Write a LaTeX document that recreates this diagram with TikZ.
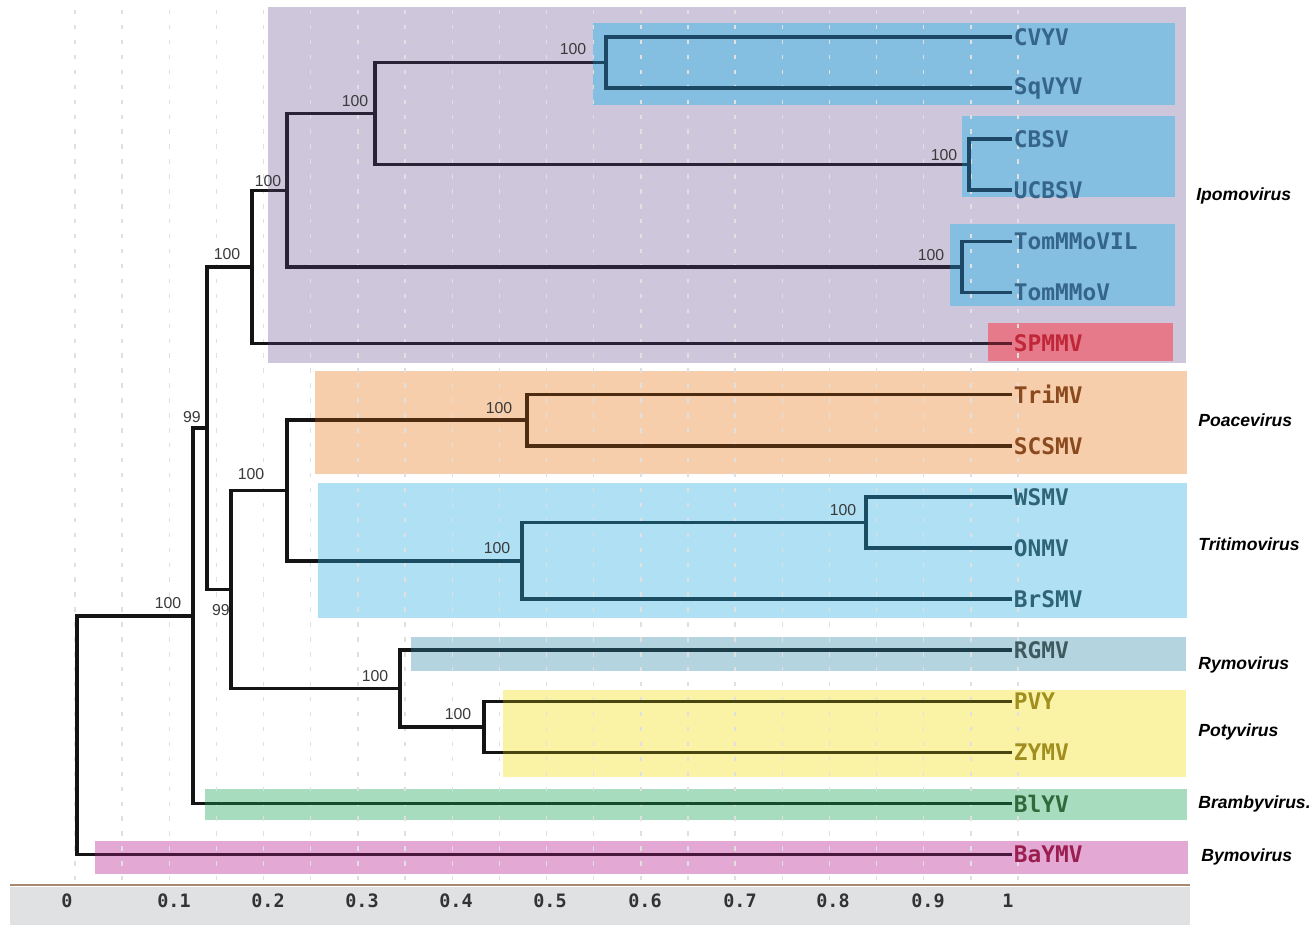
\documentclass[tikz,border=0pt]{standalone}
\usepackage{fontspec}
\setmainfont{Liberation Sans}
\setmonofont{DejaVu Sans Mono}
\usetikzlibrary{positioning}
\definecolor{ipo}{HTML}{CEC6DA}
\definecolor{ipoline}{HTML}{2A2336}
\definecolor{ipoblue}{HTML}{84BEE0}
\definecolor{ipoblueline}{HTML}{1C4866}
\definecolor{spred}{HTML}{E67A8A}
\definecolor{spredline}{HTML}{5E1E2C}
\definecolor{poa}{HTML}{F7CEAB}
\definecolor{poaline}{HTML}{4E2C12}
\definecolor{triti}{HTML}{B0E0F4}
\definecolor{tritiline}{HTML}{1A4C62}
\definecolor{rymo}{HTML}{B4D5DF}
\definecolor{rymoline}{HTML}{1C3E4A}
\definecolor{poty}{HTML}{FAF3A6}
\definecolor{potyline}{HTML}{4A4612}
\definecolor{bramby}{HTML}{A8DCBF}
\definecolor{brambyline}{HTML}{184A2C}
\definecolor{bymo}{HTML}{E3A8D4}
\definecolor{bymoline}{HTML}{4A183C}
\definecolor{treeblack}{HTML}{141414}
\definecolor{bootgray}{HTML}{3A3A3A}
\definecolor{gridgray}{HTML}{E0E0E0}
\definecolor{axisgray}{HTML}{DFE1E3}
\definecolor{axisline}{HTML}{A88872}
\definecolor{txtipo}{HTML}{35658A}
\definecolor{txtsp}{HTML}{C0283A}
\definecolor{txtpoa}{HTML}{8A4A1E}
\definecolor{txttri}{HTML}{2E6478}
\definecolor{txtry}{HTML}{3E5A60}
\definecolor{txtpot}{HTML}{A08E1E}
\definecolor{txtbra}{HTML}{2E6A3A}
\definecolor{txtby}{HTML}{9A1E50}
\tikzset{branch/.style={line width=2pt,line cap=rect,draw=treeblack},
leaf/.style={anchor=west,inner xsep=2pt,inner ysep=0pt,font=\ttfamily\bfseries\fontsize{13}{15}\selectfont},
boot/.style={inner sep=0pt,text=bootgray,font=\fontsize{9}{10}\selectfont},
genus/.style={anchor=west,inner sep=0pt,font=\bfseries\itshape\fontsize{10}{12}\selectfont},
tick/.style={inner sep=0pt,text=black!80,font=\ttfamily\bfseries\fontsize{10.5}{12}\selectfont},
gridline/.style={draw=gridgray,line width=0.8pt,dash pattern=on 2.5pt off 6pt}}
% every edge of the tree, parent |- child
\newcommand\treelines[1]{\foreach \p/\c in {root/nA,root/bay.west,nA/nB,nA/bly.west,nB/nIpo,nB/nC,
  nIpo/nK,nIpo/spm.west,nK/nL,nK/nM,nL/nN,nL/nO,nN/cvy.west,nN/sqv.west,nO/cbs.west,nO/ucb.west,
  nM/tmv.west,nM/tom.west,nC/nD,nC/nE,nD/nF,nD/nG,nF/tri.west,nF/scs.west,nG/nH,nG/brs.west,
  nH/wsm.west,nH/onm.west,nE/rgm.west,nE/nI,nI/pvy.west,nI/zym.west}
  \draw[branch,draw=#1] (\p) |- (\c);}

\begin{document}
\begin{tikzpicture}[x=0.02cm,y=-0.02cm]
\useasboundingbox (0,0) rectangle (1313,928);
\fill[white] (0,0) rectangle (1313,928);
% clade boxes
\fill[ipo] (268,7) rectangle (1186,363);
\fill[ipoblue] (593,23) rectangle (1175,105);
\fill[ipoblue] (962,116) rectangle (1175,197);
\fill[ipoblue] (950,224) rectangle (1175,306);
\fill[spred] (988,323) rectangle (1173,361);
\fill[poa] (315,371) rectangle (1187,474);
\fill[triti] (318,483) rectangle (1187,618);
\fill[rymo] (411,637) rectangle (1186,671);
\fill[poty] (503,690) rectangle (1186,777);
\fill[bramby] (205,789) rectangle (1187,820);
\fill[bymo] (95,841) rectangle (1188,874);
% grid and axis
\foreach \k in {0,...,20} \draw[gridline] (75+47.15*\k,10) -- (75+47.15*\k,880);
\fill[axisgray] (10,887) rectangle (1190,925);
\draw[axisline,line width=1.2pt] (10,885) -- (1190,885);
\foreach \x/\t in {67/0,174/0.1,268/0.2,362/0.3,456/0.4,550/0.5,645/0.6,740/0.7,833/0.8,928/0.9,1008/1}
  \node[tick] (tick-\x) at (\x,901) {\t};
% leaves
\node[leaf,text=txtipo] (cvy) at (1010,37) {CVYV};
\node[leaf,text=txtipo] (sqv) at (1010,88) {SqVYV};
\node[leaf,text=txtipo] (cbs) at (1010,139) {CBSV};
\node[leaf,text=txtipo] (ucb) at (1010,190) {UCBSV};
\node[leaf,text=txtipo] (tmv) at (1010,241.5) {TomMMoVIL};
\node[leaf,text=txtipo] (tom) at (1010,292.5) {TomMMoV};
\node[leaf,text=txtsp] (spm) at (1010,343.5) {SPMMV};
\node[leaf,text=txtpoa] (tri) at (1010,394.5) {TriMV};
\node[leaf,text=txtpoa] (scs) at (1010,446) {SCSMV};
\node[leaf,text=txttri] (wsm) at (1010,497) {WSMV};
\node[leaf,text=txttri] (onm) at (1010,548) {ONMV};
\node[leaf,text=txttri] (brs) at (1010,599) {BrSMV};
\node[leaf,text=txtry] (rgm) at (1010,650) {RGMV};
\node[leaf,text=txtpot] (pvy) at (1010,701.5) {PVY};
\node[leaf,text=txtpot] (zym) at (1010,752.5) {ZYMV};
\node[leaf,text=txtbra] (bly) at (1010,803.5) {BlYV};
\node[leaf,text=txtby] (bay) at (1010,854.5) {BaYMV};
% internal nodes
\coordinate (nN) at (606,62.5);
\coordinate (nO) at (969,164.5);
\coordinate (nL) at (375,113.5);
\coordinate (nM) at (962,267);
\coordinate (nK) at (287,190.5);
\coordinate (nIpo) at (252,267);
\coordinate (nF) at (527,420);
\coordinate (nH) at (866,522.5);
\coordinate (nG) at (522,561);
\coordinate (nD) at (287,490.5);
\coordinate (nI) at (484,727);
\coordinate (nE) at (400,688.5);
\coordinate (nC) at (231,589.5);
\coordinate (nB) at (207,428);
\coordinate (nA) at (193,616);
\coordinate (root) at (77,735);
% branches, tinted inside each box
\treelines{treeblack}
\begin{scope}\clip (268,7) rectangle (1186,363);\treelines{ipoline}\end{scope}
\begin{scope}\clip (593,23) rectangle (1175,105) (962,116) rectangle (1175,197) (950,224) rectangle (1175,306);\treelines{ipoblueline}\end{scope}
\begin{scope}\clip (988,323) rectangle (1173,361);\treelines{spredline}\end{scope}
\begin{scope}\clip (315,371) rectangle (1187,474);\treelines{poaline}\end{scope}
\begin{scope}\clip (318,483) rectangle (1187,618);\treelines{tritiline}\end{scope}
\begin{scope}\clip (411,637) rectangle (1186,671);\treelines{rymoline}\end{scope}
\begin{scope}\clip (503,690) rectangle (1186,777);\treelines{potyline}\end{scope}
\begin{scope}\clip (205,789) rectangle (1187,820);\treelines{brambyline}\end{scope}
\begin{scope}\clip (95,841) rectangle (1188,874);\treelines{bymoline}\end{scope}
% bootstrap values
\node[boot] (b-nN) at (573,49) {100};
\node[boot] (b-nL) at (355,101) {100};
\node[boot] (b-nK) at (268,181) {100};
\node[boot] (b-nIpo) at (227,254) {100};
\node[boot] (b-nO) at (944,155) {100};
\node[boot] (b-nM) at (931,255) {100};
\node[boot] (b-nB) at (192,417) {99};
\node[boot] (b-nC) at (221,610) {99};
\node[boot] (b-nA) at (168,603) {100};
\node[boot] (b-nD) at (251,474) {100};
\node[boot] (b-nF) at (499,408) {100};
\node[boot] (b-nG) at (497,548) {100};
\node[boot] (b-nH) at (843,510) {100};
\node[boot] (b-nE) at (375,676) {100};
\node[boot] (b-nI) at (458,714) {100};
% genera
\node[genus] (g-ipo) at (1196,196) {Ipomovirus};
\node[genus] (g-poa) at (1198,420) {Poacevirus};
\node[genus] (g-tri) at (1198,544) {Tritimovirus};
\node[genus] (g-ry) at (1198,665) {Rymovirus};
\node[genus] (g-pot) at (1198,732) {Potyvirus};
\node[genus] (g-bra) at (1198,804) {Brambyvirus.};
\node[genus] (g-by) at (1201,857) {Bymovirus};
\end{tikzpicture}
\end{document}
